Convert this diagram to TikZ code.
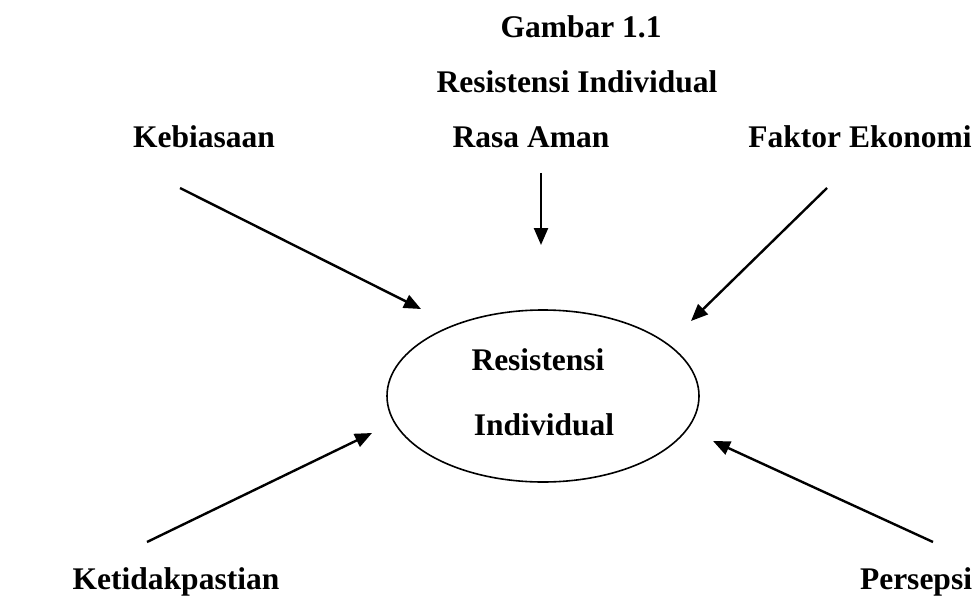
\documentclass[tikz,border=0pt]{standalone}
\usepackage{fontspec}
\setmainfont{Liberation Serif}
\usetikzlibrary{arrows.meta}
\begin{document}
\begin{tikzpicture}[x=1pt,y=-1pt,
  lbl/.style={font=\fontsize{31.5}{36}\selectfont\bfseries, inner sep=0pt, anchor=base},
  arr/.style={line width=2.4pt, -{Triangle[length=17pt,width=14pt]}}]
\useasboundingbox (0,0) rectangle (976,596);
\node[lbl] (fig) at (581,38) {Gambar 1.1};
\node[lbl] (title) at (577,93) {Resistensi Individual};
\node[lbl] (rasa) at (531,148) {Rasa Aman};
\node[lbl] (kebi) at (204,148) {Kebiasaan};
\node[lbl] (faktor) at (860,148) {Faktor Ekonomi};
\node[lbl] (keti) at (176,589) {Ketidakpastian};
\node[lbl] (pers) at (916,589) {Persepsi};
\draw[line width=1.6pt] (543,396) ellipse [x radius=156, y radius=86];
\node[lbl] (c1) at (538,370) {Resistensi};
\node[lbl] (c2) at (544,435) {Individual};
\coordinate (s1) at (180,188); \coordinate (e1) at (421,309);
\coordinate (s2) at (541,173); \coordinate (e2) at (541,245);
\coordinate (s3) at (827,188); \coordinate (e3) at (691,321);
\coordinate (s4) at (147,542); \coordinate (e4) at (372,433);
\coordinate (s5) at (933,542); \coordinate (e5) at (713,441);
\draw[arr] (s1) -- (e1);
\draw[arr] (s2) -- (e2);
\draw[arr] (s3) -- (e3);
\draw[arr] (s4) -- (e4);
\draw[arr] (s5) -- (e5);
\end{tikzpicture}
\end{document}
